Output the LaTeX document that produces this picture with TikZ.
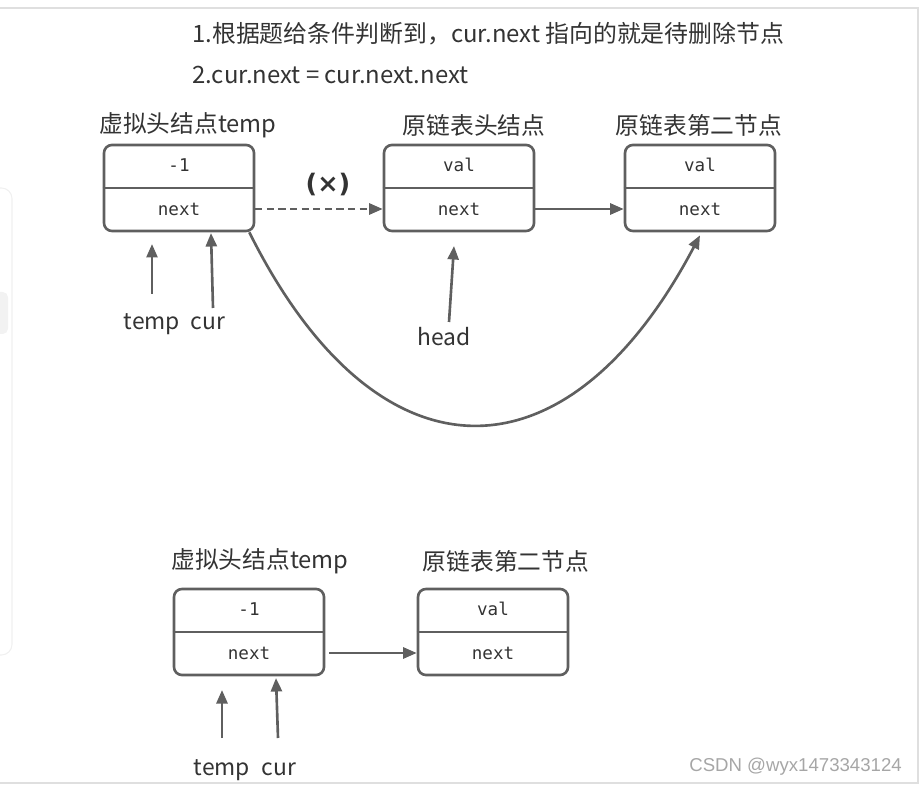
\documentclass[tikz,border=0pt]{standalone}
\usepackage{fontspec}
\newfontfamily\cjk{Noto Sans CJK SC}
\newfontfamily\wmfont{Liberation Sans}
\newfontfamily\symb{DejaVu Sans}
\setmonofont{DejaVu Sans Mono}
\usetikzlibrary{arrows.meta}
\definecolor{linegray}{HTML}{5F5F5F}
\definecolor{txtgray}{HTML}{333333}

\begin{document}
\begin{tikzpicture}[
  x=0.02cm, y=-0.02cm,
  box/.style={draw=linegray, line width=1.5pt, rounded corners=4.5pt,
              minimum width=3cm, minimum height=1.72cm, inner sep=0pt},
  field/.style={font=\ttfamily\fontsize{10}{12}\selectfont, text=txtgray},
  title/.style={font=\cjk\fontsize{13.5}{16}\selectfont, text=txtgray},
  ptr/.style={font=\cjk\fontsize{13}{15}\selectfont, text=txtgray, anchor=base},
  note/.style={font=\cjk\fontsize{13.6}{16}\selectfont, text=txtgray, anchor=west},
  sep/.style={draw=linegray, line width=1.5pt},
  arr/.style={-{Triangle[length=0.27cm, width=0.22cm]}, draw=linegray, line width=1.5pt},
  dash arr/.style={arr, dash pattern=on 4pt off 2.6pt}
]
  \useasboundingbox (0,0) rectangle (922,786);
  \draw[gray!25, line width=0.6pt] (0,8) -- (918,8) -- (918,783) -- (0,783);
  \draw[gray!12, line width=0.6pt, rounded corners=6pt] (-10,188) -- (12,188) -- (12,655) -- (-10,655);
  \fill[gray!10, rounded corners=3pt] (-6,292) rectangle (8,334);

  \node[note] (n1) at (186,34) {1.根据题给条件判断到，cur.next 指向的就是待删除节点};
  \node[note] (n2) at (186,75) {2.cur.next = cur.next.next};

  \node[title] (t1) at (188,125) {虚拟头结点temp};
  \node[title] (t2) at (474,125) {原链表头结点};
  \node[title] (t3) at (699,125) {原链表第二节点};

  \node[box]   (b1)  at (179,188) {};
  \node[field] (b1v) at (179,165) {-1};
  \node[field] (b1n) at (179,209) {next};
  \draw[sep] (b1.west) -- (b1.east);

  \node[box]   (b2)  at (459,188) {};
  \node[field] (b2v) at (459,165) {val};
  \node[field] (b2n) at (459,209) {next};
  \draw[sep] (b2.west) -- (b2.east);

  \node[box]   (b3)  at (700,188) {};
  \node[field] (b3v) at (700,165) {val};
  \node[field] (b3n) at (700,209) {next};
  \draw[sep] (b3.west) -- (b3.east);

  \draw[dash arr] (b1.east |- b1n) -- (b2.west |- b2n);
  \node[font=\symb\bfseries\fontsize{14.5}{17}\selectfont, text=txtgray] (cross) at (328,185) {(×)};
  \draw[arr] (b2.east |- b2n) -- (b3.west |- b3n);
  \draw[arr] ([xshift=-0.12cm]b1.south east) .. controls (377,488) and (567,488) .. ([yshift=-0.06cm]b3.south);

  \node[ptr] (tmp1) at (152,330) {temp};
  \node[ptr] (cur1) at (208,330) {cur};
  \node[ptr] (head) at (444,346) {head};
  \coordinate (tmp1s) at (152,294); \coordinate (tmp1e) at (152,244);
  \coordinate (cur1s) at (213,308); \coordinate (cur1e) at (211,233);
  \coordinate (heads) at (449,322); \coordinate (heade) at (454,246);
  \draw[arr] (tmp1s) -- (tmp1e);
  \draw[arr] (cur1s) -- (cur1e);
  \draw[arr] (heads) -- (heade);

  \node[title] (t4) at (260,561) {虚拟头结点temp};
  \node[title] (t5) at (506,561) {原链表第二节点};

  \node[box]   (c1)  at (249,632) {};
  \node[field] (c1v) at (249,609) {-1};
  \node[field] (c1n) at (249,653) {next};
  \draw[sep] (c1.west) -- (c1.east);

  \node[box]   (c2)  at (493,632) {};
  \node[field] (c2v) at (493,609) {val};
  \node[field] (c2n) at (493,653) {next};
  \draw[sep] (c2.west) -- (c2.east);

  \draw[arr] ([xshift=0.08cm]c1.east |- c1n) -- (c2.west |- c2n);

  \node[ptr] (tmp2) at (222,775) {temp};
  \node[ptr] (cur2) at (279,775) {cur};
  \coordinate (tmp2s) at (222,738); \coordinate (tmp2e) at (222,690);
  \coordinate (cur2s) at (278,738); \coordinate (cur2e) at (276,678);
  \draw[arr] (tmp2s) -- (tmp2e);
  \draw[arr] (cur2s) -- (cur2e);

  \node[font=\wmfont\fontsize{10.6}{13}\selectfont, text=gray!70, anchor=east] (wm) at (908,767) {CSDN @wyx1473343124};
\end{tikzpicture}
\end{document}
